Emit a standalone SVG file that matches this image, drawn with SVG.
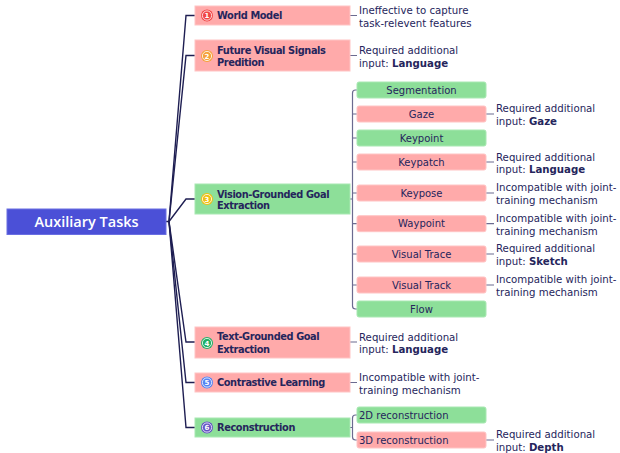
<svg xmlns="http://www.w3.org/2000/svg" width="620" height="453" viewBox="0 0 620 453">
<style>
text{font-family:"DejaVu Sans","Liberation Sans",sans-serif;fill:#25255c;}
.root{fill:#4b50d7;stroke:#6a6fe2;stroke-width:1;}
.rt{fill:#fff;font-family:"Open Sans","DejaVu Sans",sans-serif;font-size:14.5px;font-weight:600;}
.pk{fill:#ffaaaa;stroke:#ffc4c4;stroke-width:1;}
.gr{fill:#8ddf99;stroke:#a8e8b2;stroke-width:1;}
.l1{font-size:9.8px;font-weight:700;letter-spacing:-0.4px;}
.l2{font-size:10px;text-anchor:middle;}
.l2l{font-size:10px;}
.an{font-size:10.2px;}
.b{font-weight:700;}
.ic{stroke:none;}
.ir{fill:none;stroke:#fff;stroke-width:0.8;}
.in{fill:#fff;font-size:7px;font-weight:700;text-anchor:middle;}
.main{fill:none;stroke:#1e1e52;stroke-width:1.4;}
.sub{fill:none;stroke:#6b6b90;stroke-width:1.2;}
</style>
<g id="connectors">
<path class="main" d="M166 221.5H169L186 15.5H195"/>
<path class="main" d="M169 221.5L186 55.5H195"/>
<path class="main" d="M169 221.5L186 199H195"/>
<path class="main" d="M169 221.5L186 342H195"/>
<path class="main" d="M169 221.5L186 382.5H195"/>
<path class="main" d="M169 221.5L186 427.5H195"/>
<path class="sub" d="M350 15.5H357M350 55.5H357M350 342H357M350 382.5H357M350 199H352.5"/>
<path class="sub" d="M357 90H355.5Q352.5 90 352.5 93V306Q352.5 309 355.5 309H357"/>
<path class="sub" d="M352.5 114H357M352.5 138H357M352.5 162H357M352.5 193H357M352.5 223.7H357M352.5 254H357M352.5 285H357"/>
<path class="sub" d="M486 114H494M486 162H494M486 193H494M486 223.7H494M486 254H494M486 285H494M486 440H494"/>
<path class="sub" d="M350 427.5H352.5M357 415H355.5Q352.5 415 352.5 418V437Q352.5 440 355.5 440H357"/>
</g>
<g id="root">
<rect class="root" x="7" y="209" width="159" height="25.5"/>
<text class="rt" x="86.5" y="227" text-anchor="middle">Auxiliary Tasks</text>
</g>
<g id="n1">
<rect class="pk" x="195" y="6" width="155" height="19"/>
<circle class="ic" cx="207" cy="15.5" r="6" fill="#f04646"/><circle class="ir" cx="207" cy="15.5" r="4.6"/>
<text class="in" x="207" y="18">1</text>
<text class="l1" x="217" y="19.2">World Model</text>
</g>
<g id="n1a"><text class="an" x="359" y="13.5">Ineffective to capture</text><text class="an" x="359" y="26.5">task-relevent features</text></g>
<g id="n2">
<rect class="pk" x="195" y="40" width="155" height="31"/>
<circle class="ic" cx="207" cy="56" r="6" fill="#f5a23a"/><circle class="ir" cx="207" cy="56" r="4.6"/>
<text class="in" x="207" y="58.5">2</text>
<text class="l1" x="217" y="53.6">Future Visual Signals</text><text class="l1" x="217" y="66.4">Predition</text>
</g>
<g id="n2a"><text class="an" x="359" y="54">Required additional</text><text class="an" x="359" y="67">input: <tspan class="b">Language</tspan></text></g>
<g id="n3">
<rect class="gr" x="195" y="184" width="155" height="30"/>
<circle class="ic" cx="207" cy="199" r="6" fill="#f0c010"/><circle class="ir" cx="207" cy="199" r="4.6"/>
<text class="in" x="207" y="201.5">3</text>
<text class="l1" x="217" y="197.5">Vision-Grounded Goal</text><text class="l1" x="217" y="209.4">Extraction</text>
</g>
<g id="c-seg"><rect class="gr" x="357" y="82" width="129" height="16" rx="2"/><text class="l2" x="421.5" y="93.7">Segmentation</text></g>
<g id="c-gaze"><rect class="pk" x="357" y="106" width="129" height="16" rx="2"/><text class="l2" x="421.5" y="117.7">Gaze</text></g>
<g id="c-gaze-a"><text class="an" x="496" y="112">Required additional</text><text class="an" x="496" y="124.5">input: <tspan class="b">Gaze</tspan></text></g>
<g id="c-kpt"><rect class="gr" x="357" y="130" width="129" height="16" rx="2"/><text class="l2" x="421.5" y="141.7">Keypoint</text></g>
<g id="c-kpa"><rect class="pk" x="357" y="154" width="129" height="16" rx="2"/><text class="l2" x="421.5" y="165.7">Keypatch</text></g>
<g id="c-kpa-a"><text class="an" x="496" y="160.7">Required additional</text><text class="an" x="496" y="173.3">input: <tspan class="b">Language</tspan></text></g>
<g id="c-kps"><rect class="pk" x="357" y="185" width="129" height="16" rx="2"/><text class="l2" x="421.5" y="196.7">Keypose</text></g>
<g id="c-kps-a"><text class="an" x="496" y="190.7">Incompatible with joint-</text><text class="an" x="496" y="203.5">training mechanism</text></g>
<g id="c-wp"><rect class="pk" x="357" y="215.7" width="129" height="16" rx="2"/><text class="l2" x="421.5" y="227.4">Waypoint</text></g>
<g id="c-wp-a"><text class="an" x="496" y="222">Incompatible with joint-</text><text class="an" x="496" y="234.7">training mechanism</text></g>
<g id="c-vtr"><rect class="pk" x="357" y="246" width="129" height="16" rx="2"/><text class="l2" x="421.5" y="257.7">Visual Trace</text></g>
<g id="c-vtr-a"><text class="an" x="496" y="252.3">Required additional</text><text class="an" x="496" y="265">input: <tspan class="b">Sketch</tspan></text></g>
<g id="c-vtk"><rect class="pk" x="357" y="277" width="129" height="16" rx="2"/><text class="l2" x="421.5" y="288.7">Visual Track</text></g>
<g id="c-vtk-a"><text class="an" x="496" y="283">Incompatible with joint-</text><text class="an" x="496" y="295.7">training mechanism</text></g>
<g id="c-flow"><rect class="gr" x="357" y="301" width="129" height="16" rx="2"/><text class="l2" x="421.5" y="312.7">Flow</text></g>
<g id="n4">
<rect class="pk" x="195" y="327" width="155" height="31"/>
<circle class="ic" cx="207" cy="343" r="6" fill="#22b066"/><circle class="ir" cx="207" cy="343" r="4.6"/>
<text class="in" x="207" y="345.5">4</text>
<text class="l1" x="217" y="340.3">Text-Grounded Goal</text><text class="l1" x="217" y="353">Extraction</text>
</g>
<g id="n4a"><text class="an" x="359" y="340.7">Required additional</text><text class="an" x="359" y="353.3">input: <tspan class="b">Language</tspan></text></g>
<g id="n5">
<rect class="pk" x="195" y="373" width="155" height="19"/>
<circle class="ic" cx="207" cy="382.5" r="6" fill="#5383f2"/><circle class="ir" cx="207" cy="382.5" r="4.6"/>
<text class="in" x="207" y="385">5</text>
<text class="l1" x="217" y="386.3">Contrastive Learning</text>
</g>
<g id="n5a"><text class="an" x="359" y="381">Incompatible with joint-</text><text class="an" x="359" y="393.7">training mechanism</text></g>
<g id="n6">
<rect class="gr" x="195" y="418" width="155" height="19"/>
<circle class="ic" cx="207" cy="427.5" r="6" fill="#6452c4"/><circle class="ir" cx="207" cy="427.5" r="4.6"/>
<text class="in" x="207" y="430">6</text>
<text class="l1" x="217" y="431">Reconstruction</text>
</g>
<g id="c-2d"><rect class="gr" x="357" y="407" width="129" height="16" rx="2"/><text class="l2l" x="359" y="418.7">2D reconstruction</text></g>
<g id="c-3d"><rect class="pk" x="357" y="432" width="129" height="16" rx="2"/><text class="l2l" x="359" y="443.7">3D reconstruction</text></g>
<g id="c-3d-a"><text class="an" x="496" y="438">Required additional</text><text class="an" x="496" y="450.5">input: <tspan class="b">Depth</tspan></text></g>
</svg>
